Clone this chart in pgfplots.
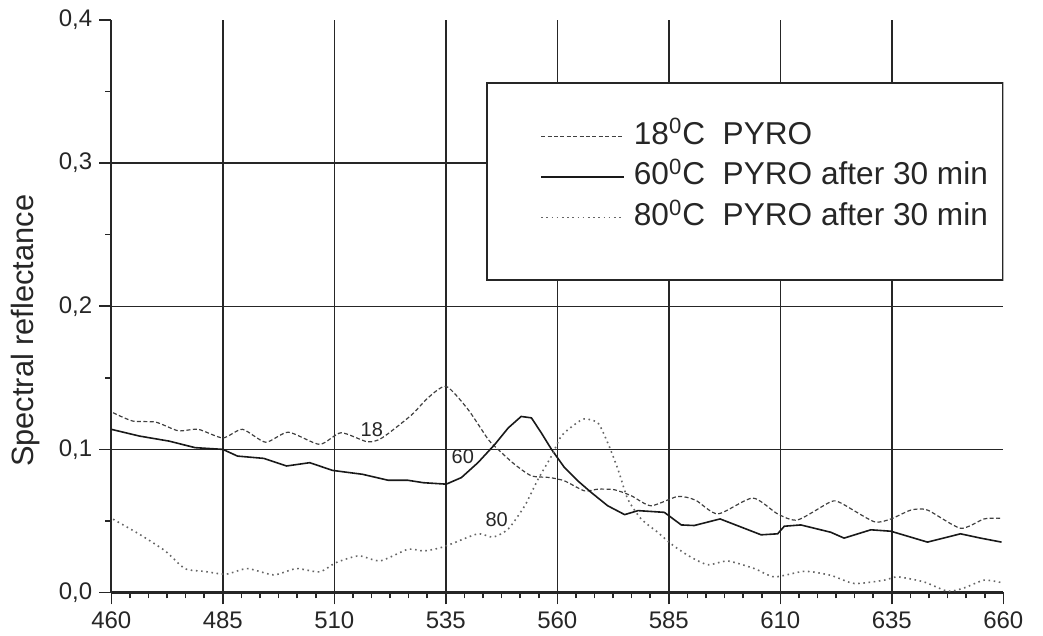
\documentclass[border=0pt]{standalone}
\usepackage{fontspec}
\setmainfont{Liberation Sans}
\usepackage{pgfplots}
\pgfplotsset{compat=1.18}

\begin{document}
\begin{tikzpicture}
\begin{axis}[
  scale only axis,
  width=446pt, height=286.25pt,
  xmin=460, xmax=660, ymin=0, ymax=0.4,
  axis x line=bottom, axis y line=left,
  axis line style={-, line width=1.1pt, black!85},
  xtick={460,485,...,660},
  ytick={0,0.1,0.2,0.3,0.4},
  minor x tick num=5, minor y tick num=1,
  tick align=outside,
  major tick length=6pt, minor tick length=3pt,
  every tick/.style={black!85, line width=0.8pt},
  /pgf/number format/assume math mode=true,
  tick label style={font=\fontsize{12}{13}\selectfont, black!85},
  yticklabel style={/pgf/number format/.cd, fixed, fixed zerofill, precision=1, use comma},
  xticklabel style={/pgf/number format/.cd, set thousands separator={}},
  extra x ticks={485,510,535,560,585,610,635},
  extra x tick labels={,,,,,,},
  extra y ticks={0.1,0.2,0.3},
  extra y tick labels={,,},
  extra tick style={grid=major, major tick length=0pt},
  major grid style={black!85, line width=0.7pt},
  ylabel={Spectral reflectance},
  ylabel style={font=\fontsize{15.4}{17}\selectfont, black!85, at={(axis description cs:-0.0874,0.457)}, anchor=base, rotate=0},
  legend style={draw=none, fill=none, at={(axis cs:556.1,0.2904)}, anchor=west,
    inner sep=0pt, row sep=6.3pt, column sep=4.5pt,
    font=\fontsize{15.8}{17}\selectfont, text=black!85,
    nodes={inner sep=0pt, text height=11pt, text depth=3pt}},
  legend cell align=left,
  legend image code/.code={\draw[#1] (0pt,0pt) -- (41.5pt,0pt);},
]
\addplot[black!75, line width=0.6pt, dash pattern=on 2pt off 1.2pt, smooth, tension=0.4] coordinates {
(460.4,0.1256) (464.8,0.1198) (470,0.119) (475,0.113) (479.5,0.114) (485,0.108)
(489.4,0.114) (494.6,0.105) (499.7,0.112) (506.7,0.1035) (511.5,0.1116) (517.4,0.1053)
(520.7,0.108) (527.3,0.124) (531,0.136) (535.1,0.144) (540,0.1278) (544.5,0.107)
(546.7,0.100) (550.4,0.0896) (554.2,0.0815) (558.3,0.0803) (561.6,0.078) (566.1,0.071)
(569.1,0.0722) (572.8,0.0718) (576.6,0.0676) (581,0.0606) (587,0.0671) (591,0.0645)
(596,0.0549) (603.8,0.066) (609.4,0.0549) (613.9,0.0507) (621.3,0.0634) (623.6,0.0625)
(631,0.0495) (634.8,0.0514) (639.3,0.0576) (643,0.0576) (650.4,0.0449) (655.7,0.0514)
(659.6,0.0519)
};
\addlegendentry{18\textsuperscript{0}C\ \ PYRO}
\addplot[black!90, line width=0.8pt] coordinates {
(460,0.114) (466.3,0.1093) (472.9,0.1058) (478.8,0.1012) (485,0.100) (488.3,0.0953)
(494.2,0.0937) (499.3,0.0884) (504.5,0.0907) (509.6,0.0853) (516.3,0.0826) (522.1,0.0784)
(526.5,0.0784) (530,0.0767) (535.1,0.0757) (538.5,0.0803) (542.2,0.0907) (546,0.1035)
(549,0.115) (551.9,0.123) (554.2,0.122) (556.4,0.1116) (558.7,0.100) (561.6,0.0873)
(564.6,0.078) (567.6,0.0699) (571.3,0.0606) (575.1,0.0544) (578.1,0.0572) (584,0.056)
(587.8,0.0472) (590.7,0.0468) (596.5,0.0514) (605.7,0.0403) (609.4,0.041) (610.9,0.0463)
(614.6,0.0472) (621.3,0.0421) (624.3,0.038) (630.3,0.0438) (634.8,0.0428) (643,0.0352)
(650.4,0.041) (654.9,0.038) (659.6,0.0352)
};
\addlegendentry{60\textsuperscript{0}C\ \ PYRO after 30 min}
\addplot[black!60, line width=0.8pt, dash pattern=on 0.8pt off 1.8pt, smooth, tension=0.4] coordinates {
(460.4,0.0512) (466.3,0.0407) (472.1,0.029) (476.5,0.0167) (481,0.0147) (485.7,0.0128)
(490.5,0.0167) (496.4,0.0123) (501.5,0.0167) (506.7,0.0144) (510.4,0.0209) (515.5,0.0256)
(520.3,0.0221) (526.5,0.0302) (530,0.029) (533.5,0.031) (536.3,0.034) (542.2,0.041)
(545.6,0.0387) (549,0.0444) (552.7,0.0606) (555.7,0.0792) (558.7,0.0954) (560.9,0.1093)
(563.9,0.1174) (566.1,0.1213) (569.1,0.1185) (571.3,0.1046) (573.6,0.0861) (575.8,0.0653)
(578.8,0.0514) (582.5,0.0421) (585.5,0.034) (589.3,0.0259) (593.7,0.0194) (598.2,0.022)
(604.2,0.0167) (608.7,0.0109) (615.4,0.0148) (621.3,0.012) (626.6,0.0063) (633.3,0.0086)
(636.3,0.0109) (642.2,0.0074) (647.5,0.0009) (651.2,0.0032) (655.7,0.0086) (659.6,0.0069)
};
\addlegendentry{80\textsuperscript{0}C\ \ PYRO after 30 min}
\draw[black!85, line width=0.9pt, fill=white] (axis cs:544.2,0.3558) rectangle (axis cs:660,0.2182);
\node[font=\fontsize{10}{11}\selectfont, text=black!85] at (axis cs:518.4,0.1135) {18};
\node[font=\fontsize{10}{11}\selectfont, text=black!85] at (axis cs:538.8,0.0948) {60};
\node[font=\fontsize{10}{11}\selectfont, text=black!85] at (axis cs:546.4,0.0506) {80};
\end{axis}
\pgfresetboundingbox
\path[use as bounding box] (-55.65pt,-21.75pt) rectangle (465.85pt,296.25pt);
\end{tikzpicture}
\end{document}
